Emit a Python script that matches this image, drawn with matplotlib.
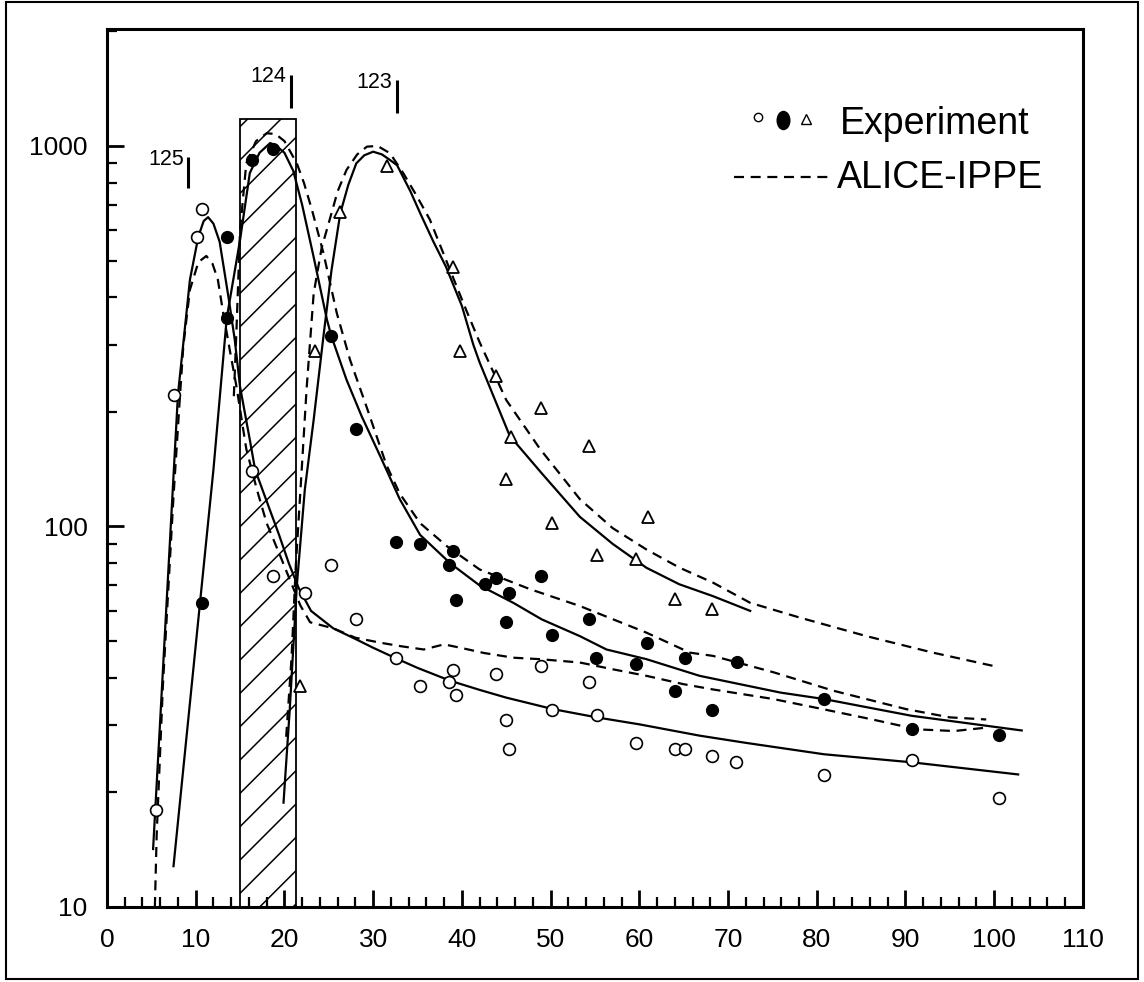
import numpy as np
import matplotlib
matplotlib.use("Agg")
import matplotlib.pyplot as plt
from matplotlib.markers import MarkerStyle
from matplotlib.transforms import Affine2D
from matplotlib.patches import Rectangle

plt.rcParams["font.family"] = ["Liberation Sans Narrow", "Liberation Sans", "DejaVu Sans"]
plt.rcParams["hatch.linewidth"] = 1.1

# experimental points (three isotopes)
open_x = [5.5, 7.5, 10.2, 10.7, 16.4, 18.7, 22.3, 25.3, 28.1, 32.6, 35.3, 38.5, 39.0, 39.3,
          43.9, 45.0, 45.3, 48.9, 50.2, 54.3, 55.2, 59.6, 64.0, 65.1, 68.2, 70.9, 80.8, 90.7, 100.5]
open_y = [18, 222, 576, 682, 140, 74, 67, 79, 57, 45, 38, 39, 42, 36,
          41, 31, 26, 43, 33, 39, 32, 27, 26, 26, 25, 24, 22.2, 24.4, 19.3]

filled_x = [10.7, 13.5, 13.5, 16.4, 18.7, 25.3, 28.1, 32.6, 35.3, 38.5, 39.0, 39.3, 42.6, 43.9,
            45.3, 45.0, 48.9, 50.2, 54.3, 55.1, 59.6, 60.9, 64.0, 65.2, 68.2, 71.0, 80.8, 90.7, 100.5]
filled_y = [63, 353, 576, 919, 980, 316, 180, 91, 90, 79, 86, 64, 70.5, 73,
            66.7, 56, 74, 52, 57, 45, 43.4, 49.3, 37, 45, 33, 44, 35.2, 29.3, 28.3]

tri_x = [21.75, 23.4, 26.3, 31.6, 39.0, 39.8, 43.9, 45.0, 45.5, 48.9, 50.2, 54.3, 55.2,
         59.6, 61.0, 64.0, 68.2]
tri_y = [38, 290, 672, 887, 482, 290, 249, 133, 172, 205, 102, 163, 84,
         82, 106, 64.6, 60.6]

# solid fits
fit125_x = [5.2, 6.0, 7.0, 8.0, 8.7, 9.35, 10.3, 10.9, 11.4, 12.0, 12.7, 13.7, 14.4, 15.0, 16.1,
            16.7, 17.8, 19.4, 20.5, 21.6, 23.0, 25.5, 28.1, 30.0, 32.6, 35.0, 38.7, 42.0, 45.0,
            50.3, 55.2, 60.0, 66.8, 72.0, 80.8, 90.7, 102.7]
fit125_y = [14.2, 31, 83, 222, 318, 445, 578, 635, 650, 625, 560, 400, 310, 233, 169,
            141, 120, 95, 80, 69, 60, 54, 50.5, 48, 45, 42.5, 39.3, 37.2, 35.5,
            33.1, 31.5, 30.2, 28.2, 27.0, 25.2, 24.0, 22.3]

fit124_x = [7.5, 9.0, 10.0, 10.7, 12.0, 13.5, 15.0, 16.1, 17.2, 18.4, 19.1, 20.0, 21.0, 22.0,
            23.3, 24.8, 25.3, 27.0, 28.7, 30.8, 33.0, 35.3, 38.7, 42.0, 45.8, 49.0, 53.3, 56.3,
            60.8, 66.8, 75.9, 80.8, 90.7, 103.1]
fit124_y = [12.8, 28.5, 48.6, 70.6, 141, 353, 566, 849, 960, 1018, 1000, 960, 860, 700,
            510, 349, 316, 243, 195, 153, 118, 95, 80, 70, 63, 57, 51.5, 47.5,
            44.8, 40.5, 36.6, 35.2, 31.8, 29.1]

fit123_x = [19.9, 20.6, 21.4, 22.3, 23.3, 24.4, 25.3, 26.3, 27.2, 28.1, 29.0, 30.0, 31.0, 32.0,
            32.7, 34.2, 35.3, 36.8, 38.2, 40.0, 41.3, 42.0, 45.4, 49.0, 53.3, 57.0, 60.8, 64.5,
            68.3, 72.5]
fit123_y = [18.8, 33, 70, 125, 191, 316, 470, 666, 790, 900, 945, 966, 950, 915,
            890, 760, 666, 560, 482, 380, 300, 270, 173, 138, 106, 90, 77.9, 70.5,
            65.6, 60.0]

# ALICE-IPPE calculations
alice125_x = [5.4, 5.6, 6.3, 7.5, 8.2, 8.6, 9.35, 10.3, 11.2, 11.9, 12.5, 13.1, 13.9, 14.6, 15.7,
              16.9, 18.0, 19.5, 20.6, 21.8, 22.9, 25.5, 28.0, 30.8, 33.0, 35.7, 38.0, 40.2, 42.5,
              45.8, 48.8, 53.3, 57.1, 60.8, 65.0, 68.3, 75.1, 80.7, 86.0, 91.3, 95.5, 99.1]
alice125_y = [10, 15.4, 38, 120, 215, 297, 419, 495, 514, 490, 445, 364, 286, 233, 160,
              125, 102, 84, 72.6, 62, 56, 54, 51, 49.5, 48.5, 47.5, 49, 47.8, 46.5,
              45.2, 44.8, 43.9, 42.1, 40.5, 38.5, 37.3, 35.2, 33.1, 31.2, 29.3, 29.0, 29.6]

alice124_x = [14.3, 14.6, 15.0, 15.7, 16.8, 18.0, 19.0, 20.0, 21.4, 22.2, 23.1, 24.4, 25.9,
              27.4, 29.3, 31.5, 33.0, 35.3, 38.3, 42.0, 47.7, 53.3, 60.8, 65.7, 68.3, 75.1, 81.9,
              90.1, 95.0, 99.1]
alice124_y = [220, 330, 600, 900, 1030, 1080, 1075, 1030, 900, 800, 680, 523, 364,
              274, 205, 145, 122, 102, 88.8, 77.1, 68.4, 61.8, 52.6, 46.6, 45.7, 41.4, 37,
              33.1, 31.5, 31.1]

alice123_x = [20.2, 20.8, 21.3, 21.9, 22.5, 23.3, 24.2, 25.1, 26.0, 27.0, 28.2, 29.3, 30.5, 31.9,
              33.4, 34.9, 36.4, 38.7, 40.5, 42.0, 45.0, 48.8, 53.3, 57.0, 60.8, 64.5, 68.3, 72.5,
              78.1, 85.6, 93.1, 99.9]
alice123_y = [28, 45, 80, 135, 230, 410, 540, 640, 760, 865, 950, 996, 1000, 957,
              848, 740, 640, 470, 370, 305, 215, 160, 118, 99, 87, 78, 71.2, 63,
              57.6, 51.5, 46.6, 43]

# shaded energy region and threshold labels
band_x0, band_x1, band_top = 14.95, 21.35, 1180
thr_names = ["125", "124", "123"]
thr_x = [9.16, 20.7, 32.65]
thr_bar_lo = [774, 1256, 1218]
thr_bar_hi = [937, 1535, 1489]
thr_text_x = [6.7, 18.2, 30.1]
thr_text_y = [891, 1475, 1417]

x_ticks = list(range(0, 111, 10))
y_ticks = [10, 100, 1000]

fig = plt.figure(figsize=(11.44, 9.82), dpi=100)
ax = fig.add_axes([0.0935, 0.0764, 0.8531, 0.8941])
ax.set_yscale("log")
ax.set_xlim(0, 110)
ax.set_ylim(10, 2030)

ax.bar(band_x0, band_top - 10, bottom=10, width=band_x1 - band_x0, align="edge",
       facecolor="none", edgecolor="black", hatch="/", lw=1.3, zorder=1)

dash = (0, (4.5, 3))
for xs, ys in [(fit125_x, fit125_y), (fit124_x, fit124_y), (fit123_x, fit123_y)]:
    ax.plot(xs, ys, color="black", lw=1.6, zorder=3)
for xs, ys in [(alice125_x, alice125_y), (alice124_x, alice124_y), (alice123_x, alice123_y)]:
    ax.plot(xs, ys, color="black", lw=1.6, ls=dash, zorder=3)

ax.plot(open_x, open_y, "o", ms=8.5, mfc="white", mec="black", mew=1.2, ls="none", zorder=4)
ax.plot(filled_x, filled_y, "o", ms=8.5, mfc="black", mec="black", ls="none", zorder=4)
ax.plot(tri_x, tri_y, "^", ms=9, mfc="white", mec="black", mew=1.3, ls="none", zorder=4)

for name, x, lo, hi, tx, ty in zip(thr_names, thr_x, thr_bar_lo, thr_bar_hi, thr_text_x, thr_text_y):
    ax.vlines(x, lo, hi, color="black", lw=2.2)
    ax.text(tx, ty, name, ha="center", va="baseline", fontsize=15.5)

# legend drawn by hand, like the original
ell = MarkerStyle("o", transform=Affine2D().scale(0.7, 1.0))
ax.plot([0.667], [0.900], "o", ms=6, mfc="white", mec="black", mew=1.0, transform=ax.transAxes, clip_on=False)
ax.plot([0.693], [0.896], marker=ell, ms=13, color="black", transform=ax.transAxes, clip_on=False)
ax.plot([0.716], [0.898], "^", ms=6.5, mfc="white", mec="black", mew=1.0, transform=ax.transAxes, clip_on=False)
ax.text(0.751, 0.880, "Experiment", transform=ax.transAxes, fontsize=27, va="baseline")
ax.plot([0.643, 0.739], [0.831, 0.831], color="black", lw=1.6, ls=dash, transform=ax.transAxes)
ax.text(0.7476, 0.8186, "ALICE-IPPE", transform=ax.transAxes, fontsize=27, va="baseline")

ax.set_xticks(x_ticks, labels=[str(v) for v in x_ticks])
ax.set_xticks(np.arange(0, 111, 2), minor=True)
ax.set_yticks(y_ticks, labels=[str(v) for v in y_ticks])
ax.tick_params(which="major", direction="in", length=12, width=2, labelsize=19)
ax.tick_params(which="minor", direction="in", length=7, width=1.6)
ax.tick_params(axis="x", which="major", pad=15)
ax.tick_params(axis="y", which="major", pad=14)
for s in ax.spines.values():
    s.set_linewidth(2.2)

fig.add_artist(Rectangle((0.0052, 0.003), 0.9896, 0.995, transform=fig.transFigure,
                         fill=False, edgecolor="black", lw=1.5))

fig.savefig("out.png", dpi=100)
